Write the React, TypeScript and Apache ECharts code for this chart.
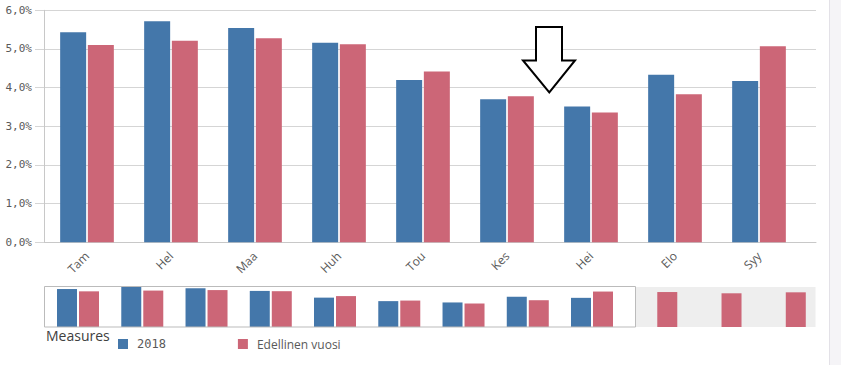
import React, { useEffect, useRef } from "react";
import * as echarts from "echarts";

const categories = ["Tam", "Hel", "Maa", "Huh", "Tou", "Kes", "Hei", "Elo", "Syy", "Lok", "Mar", "Jou"];
const values2018: (number | null)[] = [5.43, 5.72, 5.54, 5.16, 4.2, 3.7, 3.51, 4.33, 4.17, null, null, null];
const valuesPrev: number[] = [5.1, 5.21, 5.28, 5.12, 4.42, 3.78, 3.36, 3.83, 5.07, 5.0, 4.82, 4.96];
const visibleCount = 9;
const yTicks = [0, 1, 2, 3, 4, 5, 6];
const seriesNames = ["2018", "Edellinen vuosi"];
const legendTitle = "Measures";

const BLUE = "#4477aa";
const RED = "#cc6677";
const LABEL = "#595959";

export default function App() {
  const ref = useRef<HTMLDivElement>(null);
  useEffect(() => {
    document.body.style.margin = "0";
    const chart = echarts.init(ref.current!, null, { renderer: "svg" });
    const visCats = categories.slice(0, visibleCount);
    const fmt = (v: number) => v.toFixed(1).replace(".", ",") + "%";
    const bar = (name: string, data: (number | null)[], color: string, xi: number, w: number, gap: string) => ({
      name,
      type: "bar",
      xAxisIndex: xi,
      yAxisIndex: xi,
      data,
      barWidth: w,
      barGap: gap,
      itemStyle: { color },
      emphasis: { disabled: true },
      silent: true,
      z: 3,
    });
    chart.setOption({
      animation: false,
      tooltip: { show: false },
      grid: [
        { left: 45, top: 10.3, width: 756, height: 232, containLabel: false },
        { left: 44, top: 10.3, width: 772, height: 232, containLabel: false },
        { left: 45.9, top: 287, width: 771, height: 40, containLabel: false },
      ],
      xAxis: [
        {
          gridIndex: 0,
          type: "category",
          data: visCats,
          axisLine: { show: false },
          axisTick: { show: false },
          axisPointer: { show: false },
          silent: true,
          axisLabel: {
            rotate: 45,
            margin: 11.5,
            color: LABEL,
            fontFamily: "Open Sans",
            fontSize: 12,
            interval: 0,
          },
        },
        {
          gridIndex: 1,
          type: "value",
          min: 0,
          max: 1,
          axisLine: { show: true, lineStyle: { color: "#c8c8c8", width: 1 } },
          axisTick: { show: false },
          axisLabel: { show: false },
          splitLine: { show: false },
        },
        {
          gridIndex: 2,
          type: "category",
          data: categories,
          show: false,
        },
      ],
      yAxis: [
        { gridIndex: 0, type: "value", min: 0, max: yTicks[yTicks.length - 1], show: false },
        {
          gridIndex: 1,
          type: "value",
          min: yTicks[0],
          max: yTicks[yTicks.length - 1],
          interval: 1,
          axisLine: { show: true, lineStyle: { color: "#c8c8c8", width: 1 } },
          axisTick: { show: true, length: 9, lineStyle: { color: "#d5d5d5" } },
          splitLine: { show: true, lineStyle: { color: "#d5d5d5", width: 1 } },
          axisLabel: {
            margin: 12,
            color: LABEL,
            fontFamily: "DejaVu Sans Mono",
            fontSize: 11,
            formatter: (v: number) => fmt(v),
          },
        },
        { gridIndex: 2, type: "value", min: 0, max: "dataMax", show: false },
      ],
      legend: {
        left: 113,
        top: 333,
        icon: "rect",
        itemWidth: 10,
        itemHeight: 10,
        itemGap: 72,
        data: [
          { name: seriesNames[0], textStyle: { fontFamily: "DejaVu Sans Mono", fontSize: 12, color: LABEL, padding: [0, 0, 0, 4] } },
          { name: seriesNames[1], textStyle: { fontFamily: "Open Sans", fontSize: 12, color: LABEL, padding: [0, 0, 0, 4] } },
        ],
        selectedMode: false,
      },
      series: [
        bar(seriesNames[0], values2018.slice(0, visibleCount), BLUE, 0, 26, "6.5%"),
        bar(seriesNames[1], valuesPrev.slice(0, visibleCount), RED, 0, 26, "6.5%"),
        bar(seriesNames[0], values2018, BLUE, 2, 20, "10%"),
        bar(seriesNames[1], valuesPrev, RED, 2, 20, "10%"),
      ],
      graphic: [
        {
          type: "rect",
          z: 0,
          silent: true,
          shape: { x: 635.5, y: 287, width: 180, height: 40 },
          style: { fill: "#eeeeee" },
        },
        {
          type: "rect",
          z: 10,
          silent: true,
          shape: { x: 44.5, y: 286.5, width: 591, height: 40.5 },
          style: { fill: "none", stroke: "#bbbbbb", lineWidth: 1 },
        },
        {
          type: "text",
          x: 46,
          y: 328,
          silent: true,
          style: {
            text: legendTitle,
            font: "14px 'Open Sans'",
            fill: "#404040",
          },
        },
        {
          type: "polygon",
          z: 20,
          silent: true,
          shape: {
            points: [
              [536, 27],
              [562, 27],
              [562, 60.5],
              [575, 60.5],
              [549.3, 92.5],
              [523, 60.5],
              [536, 60.5],
            ],
          },
          style: { fill: "#ffffff", stroke: "#000000", lineWidth: 2 },
        },
        {
          type: "rect",
          z: 0,
          silent: true,
          shape: { x: 829, y: 0, width: 12, height: 365 },
          style: { fill: "#f5f4f7" },
        },
        {
          type: "line",
          z: 1,
          silent: true,
          shape: { x1: 829.5, y1: 0, x2: 829.5, y2: 365 },
          style: { stroke: "#e3e1e7", lineWidth: 1 },
        },
      ],
    });
    return () => chart.dispose();
  }, []);
  return <div ref={ref} style={{ position: "absolute", left: 0, top: 0, width: 841, height: 377 }} />;
}
